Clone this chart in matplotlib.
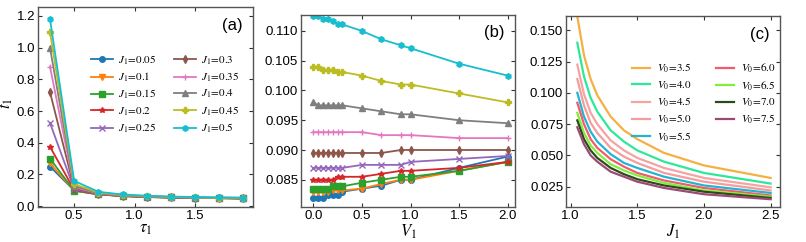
import matplotlib
matplotlib.use("Agg")
import matplotlib.pyplot as plt

# ---- panel (a): t1 vs tau1 ----
tau1 = [0.3, 0.5, 0.7, 0.9, 1.1, 1.3, 1.5, 1.7, 1.9]
J1_labels = ["0.05", "0.1", "0.15", "0.2", "0.25", "0.3", "0.35", "0.4", "0.45", "0.5"]
t1_J005 = [0.25, 0.100, 0.075, 0.064, 0.058, 0.055, 0.052, 0.051, 0.049]
t1_J010 = [0.27, 0.099, 0.075, 0.064, 0.058, 0.055, 0.052, 0.051, 0.049]
t1_J015 = [0.30, 0.097, 0.075, 0.064, 0.058, 0.055, 0.052, 0.051, 0.049]
t1_J020 = [0.375, 0.103, 0.076, 0.065, 0.059, 0.055, 0.052, 0.051, 0.049]
t1_J025 = [0.525, 0.108, 0.077, 0.066, 0.059, 0.056, 0.053, 0.051, 0.050]
t1_J030 = [0.72, 0.113, 0.079, 0.067, 0.060, 0.056, 0.053, 0.052, 0.050]
t1_J035 = [0.88, 0.120, 0.081, 0.068, 0.061, 0.057, 0.054, 0.052, 0.051]
t1_J040 = [1.00, 0.128, 0.083, 0.069, 0.062, 0.058, 0.055, 0.053, 0.052]
t1_J045 = [1.10, 0.140, 0.086, 0.071, 0.064, 0.059, 0.056, 0.054, 0.053]
t1_J050 = [1.18, 0.160, 0.091, 0.074, 0.066, 0.061, 0.058, 0.056, 0.054]
a_xticks = [0.5, 1.0, 1.5]
a_yticks = [0.0, 0.2, 0.4, 0.6, 0.8, 1.0, 1.2]

# ---- panel (b): vs V1 ----
V1 = [0.0, 0.05, 0.1, 0.15, 0.2, 0.25, 0.3, 0.5, 0.7, 0.9, 1.0, 1.5, 2.0]
b_J005 = [0.0819, 0.0819, 0.0819, 0.0824, 0.0824, 0.0824, 0.0830, 0.0835, 0.0840, 0.0850, 0.0850, 0.0870, 0.0889]
b_J010 = [0.0829, 0.0829, 0.0829, 0.0829, 0.0832, 0.0832, 0.0832, 0.0835, 0.0843, 0.0850, 0.0850, 0.0865, 0.0880]
b_J015 = [0.0835, 0.0835, 0.0835, 0.0835, 0.0839, 0.0839, 0.0839, 0.0845, 0.0850, 0.0855, 0.0855, 0.0865, 0.0880]
b_J020 = [0.0850, 0.0850, 0.0850, 0.0850, 0.0850, 0.0855, 0.0855, 0.0855, 0.0860, 0.0865, 0.0865, 0.0870, 0.0880]
b_J025 = [0.0870, 0.0870, 0.0870, 0.0870, 0.0870, 0.0870, 0.0870, 0.0875, 0.0875, 0.0875, 0.0880, 0.0885, 0.0890]
b_J030 = [0.0895, 0.0895, 0.0895, 0.0895, 0.0895, 0.0895, 0.0895, 0.0895, 0.0895, 0.0900, 0.0900, 0.0900, 0.0900]
b_J035 = [0.0930, 0.0930, 0.0930, 0.0930, 0.0930, 0.0930, 0.0930, 0.0930, 0.0925, 0.0925, 0.0925, 0.0920, 0.0920]
b_J040 = [0.0980, 0.0975, 0.0975, 0.0975, 0.0975, 0.0975, 0.0975, 0.0970, 0.0965, 0.0960, 0.0960, 0.0950, 0.0945]
b_J045 = [0.1040, 0.1040, 0.1035, 0.1035, 0.1035, 0.1031, 0.1031, 0.1025, 0.1016, 0.1010, 0.1010, 0.0995, 0.0980]
b_J050 = [0.1126, 0.1126, 0.1120, 0.1120, 0.1116, 0.1111, 0.1111, 0.1100, 0.1086, 0.1076, 0.1071, 0.1045, 0.1025]
b_xticks = [0.0, 0.5, 1.0, 1.5, 2.0]
b_yticks = [0.085, 0.090, 0.095, 0.100, 0.105, 0.110]

# ---- panel (c): vs J1 ----
J1 = [1.05, 1.1, 1.15, 1.2, 1.3, 1.4, 1.5, 1.7, 2.0, 2.5]
V0_labels = ["3.5", "4.0", "4.5", "5.0", "5.5", "6.0", "6.5", "7.0", "7.5"]
c_V35 = [0.161, 0.130, 0.111, 0.098, 0.081, 0.070, 0.063, 0.052, 0.042, 0.032]
c_V40 = [0.140, 0.113, 0.096, 0.085, 0.070, 0.061, 0.054, 0.045, 0.036, 0.0275]
c_V45 = [0.1225, 0.099, 0.084, 0.075, 0.062, 0.054, 0.048, 0.040, 0.032, 0.0245]
c_V50 = [0.111, 0.090, 0.076, 0.068, 0.056, 0.049, 0.044, 0.036, 0.029, 0.0220]
c_V55 = [0.100, 0.081, 0.069, 0.061, 0.051, 0.044, 0.040, 0.033, 0.026, 0.0200]
c_V60 = [0.092, 0.075, 0.063, 0.056, 0.047, 0.041, 0.036, 0.030, 0.024, 0.0180]
c_V65 = [0.084, 0.068, 0.058, 0.052, 0.043, 0.038, 0.034, 0.028, 0.022, 0.0170]
c_V70 = [0.078, 0.063, 0.054, 0.048, 0.040, 0.035, 0.031, 0.026, 0.021, 0.0160]
c_V75 = [0.0725, 0.059, 0.050, 0.045, 0.037, 0.033, 0.029, 0.024, 0.019, 0.0150]
c_xticks = [1.0, 1.5, 2.0, 2.5]
c_yticks = [0.025, 0.050, 0.075, 0.100, 0.125, 0.150]

plt.rcParams["font.family"] = ["Liberation Sans", "DejaVu Sans"]
plt.rcParams["mathtext.fontset"] = "stix"

colors_ab = ["#1f77b4", "#ff7f0e", "#2ca02c", "#d62728", "#9467bd",
             "#8c564b", "#e377c2", "#7f7f7f", "#bcbd22", "#17becf"]
markers_ab = ["o", "v", "s", "*", "x", "d", "+", "^", "P", "h"]
colors_c = ["#f5b041", "#2ee89a", "#f5a3a3", "#f59c9c", "#22b5cf",
            "#f25a70", "#7ef03c", "#2e4a1c", "#9c4a74"]

series_a = [t1_J005, t1_J010, t1_J015, t1_J020, t1_J025, t1_J030, t1_J035, t1_J040, t1_J045, t1_J050]
series_b = [b_J005, b_J010, b_J015, b_J020, b_J025, b_J030, b_J035, b_J040, b_J045, b_J050]
series_c = [c_V35, c_V40, c_V45, c_V50, c_V55, c_V60, c_V65, c_V70, c_V75]

fig = plt.figure(figsize=(8.06, 2.42), dpi=100)
ax_a = fig.add_axes([0.047, 0.1426, 0.267, 0.828])
ax_b = fig.add_axes([0.3734, 0.1426, 0.2656, 0.797])
ax_c = fig.add_axes([0.7022, 0.1426, 0.2655, 0.792])


def style(ax, xt, yt, xfmt, yfmt):
    ax.set_xticks(xt)
    ax.set_xticklabels([format(v, xfmt) for v in xt])
    ax.set_yticks(yt)
    ax.set_yticklabels([format(v, yfmt) for v in yt])
    ax.tick_params(direction="in", top=True, right=True, labelsize=9.5, length=3,
                   width=0.8, color="#333", pad=2)
    for s in ax.spines.values():
        s.set_color("#555")
        s.set_linewidth(1.0)


for ys, col, mk, lab in zip(series_a, colors_ab, markers_ab, J1_labels):
    ax_a.plot(tau1, ys, color=col, marker=mk, ms=4, lw=1.3, mew=1.0,
              label=rf"$J_1\!=\!{lab}$")
ax_a.set_xlim(0.2, 1.98)
ax_a.set_ylim(-0.008, 1.255)
ax_a.set_xlabel(r"$\tau_1$", fontsize=12, labelpad=0)
ax_a.set_ylabel(r"$t_1$", fontsize=12)
ax_a.yaxis.set_label_coords(-0.105, 0.52)
ax_a.legend(ncol=2, loc="upper left", bbox_to_anchor=(0.245, 0.77), frameon=False,
            fontsize=8, handlelength=2.0, columnspacing=1.6, labelspacing=0.35,
            handletextpad=0.45, borderaxespad=0, borderpad=0)
ax_a.text(0.95, 0.91, "(a)", transform=ax_a.transAxes, ha="right", va="center", fontsize=12)
style(ax_a, a_xticks, a_yticks, ".1f", ".1f")

for ys, col, mk in zip(series_b, colors_ab, markers_ab):
    ax_b.plot(V1, ys, color=col, marker=mk, ms=4, lw=1.3, mew=1.0)
ax_b.set_xlim(-0.127, 2.075)
ax_b.set_ylim(0.08034, 0.11275)
ax_b.set_xlabel(r"$V_1$", fontsize=12, labelpad=0)
ax_b.text(0.95, 0.905, "(b)", transform=ax_b.transAxes, ha="right", va="center", fontsize=12)
style(ax_b, b_xticks, b_yticks, ".1f", ".3f")

for ys, col, lab in zip(series_c, colors_c, V0_labels):
    ax_c.plot(J1, ys, color=col, lw=1.6, label=rf"$V_0\!=\!{lab}$")
ax_c.set_xlim(0.965, 2.57)
ax_c.set_ylim(0.0084, 0.1615)
ax_c.set_xlabel(r"$J_1$", fontsize=12, labelpad=0)
ax_c.legend(ncol=2, loc="upper left", bbox_to_anchor=(0.307, 0.76), frameon=False,
            fontsize=8, handlelength=1.65, columnspacing=2.2, labelspacing=0.35,
            handletextpad=0.6, borderaxespad=0, borderpad=0)
ax_c.text(0.95, 0.905, "(c)", transform=ax_c.transAxes, ha="right", va="center", fontsize=12)
style(ax_c, c_xticks, c_yticks, ".1f", ".3f")

fig.savefig("out.png", dpi=100)
